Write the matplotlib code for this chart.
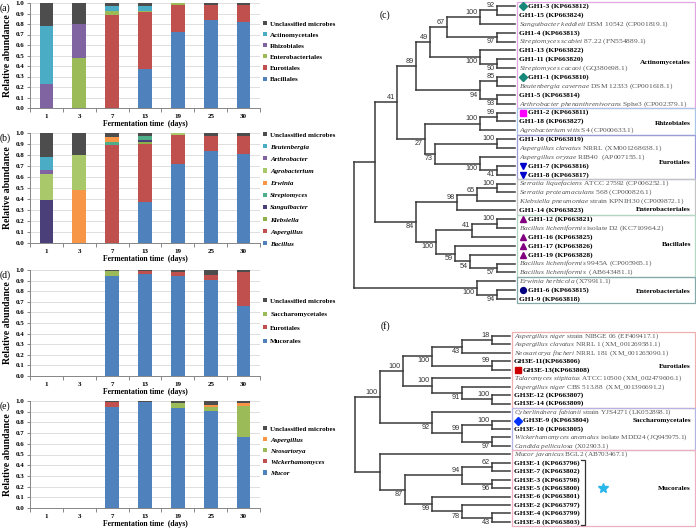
import matplotlib
matplotlib.use('Agg')
import matplotlib.pyplot as plt
from matplotlib.patches import Patch, Rectangle
from matplotlib.collections import LineCollection
import numpy as np

plt.rcParams['font.family'] = 'Liberation Serif'
plt.rcParams['mathtext.fontset'] = 'custom'
plt.rcParams['mathtext.it'] = 'Liberation Serif:italic'
plt.rcParams['mathtext.rm'] = 'Liberation Serif'

W, H = 696, 528

# ---------------- bar chart data ----------------
days = ['1', '3', '7', '13', '19', '25', '30']

# (a) bacterial orders, bottom -> top
a_names = ['Bacillales', 'Eurotiales', 'Enterobacteriales', 'Rhizobiales',
           'Actinomycetales', 'Unclassified microbes']
a_bacillales = [0, 0, 0, 0.37, 0.72, 0.84, 0.82]
a_eurotiales = [0, 0, 0.89, 0.54, 0.26, 0.14, 0.16]
a_enterobacteriales = [0, 0.48, 0.03, 0.01, 0.02, 0, 0]
a_rhizobiales = [0.23, 0.32, 0, 0, 0, 0, 0]
a_actinomycetales = [0.55, 0, 0.05, 0.05, 0, 0, 0]
a_unclassified = [0.22, 0.20, 0.03, 0.03, 0, 0.02, 0.02]

# (b) bacterial genera, bottom -> top
b_names = ['Bacillus', 'Aspergillus', 'Klebsiella', 'Sangulbacter', 'Streptomyces',
           'Erwinia', 'Agrobacterium', 'Arthrobacter', 'Beutenbergia',
           'Unclassified microbes']
b_bacillus = [0, 0, 0, 0.375, 0.72, 0.84, 0.81]
b_aspergillus = [0, 0, 0.89, 0.525, 0.26, 0.135, 0.165]
b_klebsiella = [0, 0, 0, 0.015, 0, 0, 0]
b_sangulbacter = [0.39, 0, 0, 0.02, 0, 0, 0]
b_streptomyces = [0, 0, 0.03, 0.035, 0, 0, 0]
b_erwinia = [0, 0.48, 0.045, 0, 0, 0, 0]
b_agrobacterium = [0.24, 0.32, 0, 0, 0.02, 0, 0]
b_arthrobacter = [0.03, 0, 0, 0, 0, 0, 0]
b_beutenbergia = [0.12, 0, 0, 0, 0, 0, 0]
b_unclassified = [0.22, 0.20, 0.035, 0.03, 0, 0.025, 0.025]

# (d) fungal orders, bottom -> top
d_names = ['Mucorales', 'Eurotiales', 'Saccharomycetales', 'Unclassified microbes']
d_mucorales = [0, 0, 0.945, 0.965, 0.94, 0.905, 0.665]
d_eurotiales = [0, 0, 0, 0.025, 0.045, 0.05, 0.315]
d_saccharomycetales = [0, 0, 0.045, 0, 0, 0, 0]
d_unclassified = [0, 0, 0.01, 0.01, 0.015, 0.045, 0.02]

# (e) fungal genera, bottom -> top
e_names = ['Mucor', 'Wickerhamomyces', 'Neosartorya', 'Aspergillus', 'Unclassified microbes']
e_mucor = [0, 0, 0.945, 0.99, 0.935, 0.905, 0.665]
e_wickerhamomyces = [0, 0, 0.045, 0, 0, 0, 0]
e_neosartorya = [0, 0, 0, 0, 0.05, 0.035, 0.29]
e_aspergillus = [0, 0, 0, 0, 0, 0.02, 0.025]
e_unclassified = [0, 0, 0.01, 0.01, 0.015, 0.04, 0.02]

BLUE, RED, GREEN, PURPLE = '#4f81bd', '#c0504d', '#9bbb59', '#8064a2'
AQUA, ORANGE, GRAY = '#4bacc6', '#f79646', '#4d4d4d'

# ---------------- tree data ----------------
# leaves: (italic part, rest). isolates have no italic part and are bold
c_leaves = [
    ("", "GH1-3 (KP663812)"), ("", "GH1-15 (KP663824)"),
    ("Sanguibacter keddieii", "DSM 10542 (CP001819.1)"),
    ("", "GH1-4 (KP663813)"), ("Streptomyces scabiei", "87.22 (FN554889.1)"),
    ("", "GH1-13 (KP663822)"), ("", "GH1-11 (KP663820)"),
    ("Streptomyces cacaoi", "(GQ380698.1)"), ("", "GH1-1 (KP663810)"),
    ("Beutenbergia cavernae", "DSM 12333 (CP001618.1)"), ("", "GH1-5 (KP663814)"),
    ("Arthrobacter phenanthrenivorans", "Sphe3 (CP002379.1)"),
    ("", "GH1-2 (KP663811)"), ("", "GH1-18 (KP663827)"),
    ("Agrobacterium vitis", "S4 (CP000633.1)"), ("", "GH1-10 (KP663819)"),
    ("Aspergillus clavatus", "NRRL (XM001268638.1)"),
    ("Aspergillus oryzae", "RIB40  (AP007155.1)"),
    ("", "GH1-7 (KP663816)"), ("", "GH1-8 (KP663817)"),
    ("Serratia liquefaciens", "ATCC 27592 (CP006252.1)"),
    ("Serratia proteamaculans", "568 (CP000826.1)"),
    ("Klebsiella pneumoniae", "strain KPNIH30 (CP009872.1)"),
    ("", "GH1-14 (KP663823)"), ("", "GH1-12 (KP663821)"),
    ("Bacillus licheniformis", "isolate D2 (KC710964.2)"),
    ("", "GH1-16 (KP663825)"), ("", "GH1-17 (KP663826)"), ("", "GH1-19 (KP663828)"),
    ("Bacillus licheniformis", "9945A (CP005965.1)"),
    ("Bacillus licheniformis", " (AB643481.1)"),
    ("Erwinia herbicola", "(X79911.1)"), ("", "GH1-6 (KP663815)"), ("", "GH1-9 (KP663818)"),
]
c_marks = {0: ('D', '#17877a'), 8: ('D', '#17877a'), 12: ('s', '#ff00ff'),
           18: ('v', '#0000cc'), 19: ('v', '#0000cc'), 24: ('^', '#800080'),
           26: ('^', '#800080'), 27: ('^', '#800080'), 28: ('^', '#800080'),
           32: ('o', '#000080')}
# node: (x position, bootstrap, label above 'a' / below 'b', children)
c_tree = (354, None, 'a', [
    (375, None, 'a', [
        (397, 41, 'a', [
            (416, 89, 'a', [
                (430, 49, 'a', [
                    (447, 67, 'a', [
                        (480, 100, 'a', [(497, 92, 'a', [0, 1]), 2]),
                        (497, 97, 'b', [3, 4])]),
                    (480, 100, 'b', [5, (497, 90, 'b', [6, 7])])]),
                (480, 94, 'b', [(497, 85, 'a', [8, 9]), (497, 93, 'b', [10, 11])])]),
            (425, 27, 'b', [
                (480, 100, 'a', [(497, 99, 'a', [12, 13]), 14]),
                (435, 73, 'b', [
                    (497, 100, 'a', [15, 16]),
                    (480, 100, 'b', [17, (497, 41, 'b', [18, 19])])])])]),
        (416, 84, 'b', [
            (457, 98, 'a', [(477, 65, 'a', [(497, 100, 'a', [20, 21]), 22]), 23]),
            (436, 100, 'b', [
                (472, 41, 'a', [(497, 100, 'a', [24, 25]), 26]),
                (455, 59, 'b', [27, (470, 54, 'b', [28, (497, 57, 'b', [29, 30])])])])])]),
    (477, 100, 'b', [31, (497, 94, 'b', [32, 33])])])
c_groups = [("Actinomycetales", 0, 11, 6.4, '#e2a6e2'),
            ("Rhizobiales", 12, 14, 13.2, '#a9c4e6'),
            ("Eurotiales", 15, 19, 17.6, '#9c9cd8'),
            ("Enterobacteriales", 20, 23, 22.9, '#c4c4c4'),
            ("Bacillales", 24, 30, 26.9, '#b2d8c4'),
            ("Enterobacteriales", 31, 33, 32.2, '#86a8a8')]

f_leaves = [
    ("Aspergillus niger", "strain NIBGE 06 (EF409417.1)"),
    ("Aspergillus clavatus", "NRRL 1 (XM_001269581.1)"),
    ("Neosartorya fischeri", "NRRL 181 (XM_001265090.1)"),
    ("", "GH3E-11(KP663806)"), ("", "GH3E-13(KP663808)"),
    ("Talaromyces stipitatus", "ATCC 10500 (XM_002479606.1)"),
    ("Aspergillus niger", "CBS 513.88  (XM_001396691.2)"),
    ("", "GH3E-12 (KP663807)"), ("", "GH3E-14 (KP663809)"),
    ("Cyberlindnera fabianii", "strain YJS4271 (LK052898.1)"),
    ("", "GH3E-9 (KP663804)"), ("", "GH3E-10 (KP663805)"),
    ("Wickerhamomyces anomalus", "isolate MDD24 (JQ945975.1)"),
    ("Candida pelliculosa", "(X02903.1)"),
    ("Mucor javanicus", "BGL2 (AB703467.1)"),
    ("", "GH3E-1 (KP663796)"), ("", "GH3E-7 (KP663802)"), ("", "GH3E-3 (KP663798)"),
    ("", "GH3E-5 (KP663800)"), ("", "GH3E-6 (KP663801)"), ("", "GH3E-2 (KP663797)"),
    ("", "GH3E-4 (KP663799)"), ("", "GH3E-8 (KP663803)"),
]
f_marks = {4: ('s', '#cc0000'), 10: ('D', '#0033ff')}
f_tree = (355, None, 'a', [
    (380, 100, 'a', [
        (403, 100, 'a', [
            (432, 100, 'b', [(462, 43, 'b', [(492, 18, 'a', [0, 1]), 2]),
                             (492, 99, 'a', [3, 4])]),
            (432, 100, 'a', [5, (462, 91, 'b', [6, (492, 100, 'a', [7, 8])])])]),
        (432, 92, 'b', [9, (462, 99, 'a', [(492, 100, 'a', [10, 11]),
                                           (492, 97, 'b', [12, 13])])])]),
    (380, None, 'a', [
        14,
        (405, 87, 'b', [
            (462, 94, 'a', [(492, 62, 'a', [15, 16]), (492, 96, 'b', [17, 18])]),
            (432, 99, 'b', [19, (462, 78, 'b', [20, (492, 43, 'b', [21, 22])])])])])])
f_groups = [("Eurotiales", 0, 8, 3.6, '#eeb0b0'),
            ("Saccharomycetales", 9, 13, 10.0, '#b4b4e4'),
            ("Mucorales", 14, 22, 18.0, '#eeb0c0')]

fig = plt.figure(figsize=(W / 100, H / 100), dpi=100)


def rect(l, t, r, b):
    return [l / W, 1 - b / H, (r - l) / W, (b - t) / H]


def bar_panel(box, tag, names, series, colors, leg_top, leg_space, italic=False):
    ax = fig.add_axes(rect(*box))
    x = np.arange(len(days))
    bottom = np.zeros(len(days))
    for vals, c in zip(series, colors):
        ax.bar(x, vals, 0.42, bottom=bottom, color=c, zorder=2, linewidth=0)
        bottom += np.array(vals)
    ax.set_xlim(-0.5, len(days) - 0.5)
    ax.set_ylim(0, 1)
    yt = np.round(np.arange(0, 1.01, 0.1), 1)
    ax.set_yticks(yt)
    ax.set_yticklabels(['%.1f' % v for v in yt], fontsize=5, fontweight='bold')
    ax.set_xticks(x)
    ax.set_xticklabels(days, fontsize=5, fontweight='bold')
    ax.set_xticks(np.arange(-0.5, len(days), 1), minor=True)
    ax.tick_params(axis='x', which='major', length=0, pad=4)
    ax.tick_params(axis='x', which='minor', length=3, color='#868686', width=0.7)
    ax.tick_params(axis='y', length=2, color='#868686', width=0.7, pad=2)
    ax.grid(axis='y', color='#d9d9d9', lw=0.6)
    ax.set_axisbelow(True)
    for s in ['top', 'right']:
        ax.spines[s].set_visible(False)
    for s in ['left', 'bottom']:
        ax.spines[s].set_color('#868686')
        ax.spines[s].set_linewidth(0.7)
    ax.set_xlabel('Fermentation time  (days)', fontsize=5.5, fontweight='bold', labelpad=1)
    ax.set_ylabel('Relative abundance', fontsize=7, fontweight='bold', labelpad=3)
    fig.text(0 / W, 1 - (box[1] + 5) / H, tag, fontsize=7, va='center', ha='left')
    handles = [Patch(facecolor=c, edgecolor='none') for c in colors][::-1]
    leg = fig.legend(handles, names[::-1], loc='upper left',
                     bbox_to_anchor=(263 / W, 1 - leg_top / H), bbox_transform=fig.transFigure,
                     frameon=False, handlelength=0.55, handleheight=0.55,
                     handletextpad=0.5, borderpad=0, borderaxespad=0, labelspacing=leg_space,
                     prop={'weight': 'bold', 'size': 5})
    if italic:
        for t in leg.get_texts():
            if t.get_text() != 'Unclassified microbes':
                t.set_style('italic')
    return ax


bar_panel((30, 3, 260, 108), '(a)', a_names,
          [a_bacillales, a_eurotiales, a_enterobacteriales, a_rhizobiales,
           a_actinomycetales, a_unclassified],
          [BLUE, RED, GREEN, PURPLE, AQUA, GRAY], 21, 0.8)
bar_panel((30, 133, 260, 243), '(b)', b_names,
          [b_bacillus, b_aspergillus, b_klebsiella, b_sangulbacter, b_streptomyces,
           b_erwinia, b_agrobacterium, b_arthrobacter, b_beutenbergia, b_unclassified],
          [BLUE, RED, '#8cb04a', '#4b3f7a', '#4fae8a', ORANGE, '#a9c86a', PURPLE, AQUA, GRAY],
          132, 0.95, italic=True)
bar_panel((30, 270, 260, 376), '(d)', d_names,
          [d_mucorales, d_eurotiales, d_saccharomycetales, d_unclassified],
          [BLUE, RED, GREEN, GRAY], 298, 1.15)
bar_panel((30, 401, 260, 508), '(e)', e_names,
          [e_mucor, e_wickerhamomyces, e_neosartorya, e_aspergillus, e_unclassified],
          [BLUE, RED, GREEN, ORANGE, GRAY], 426, 0.8, italic=True)

# ---------------- trees ----------------
axt = fig.add_axes([0, 0, 1, 1])
axt.set_xlim(0, W)
axt.set_ylim(H, 0)
axt.axis('off')


def layout(node, ys, tip_x, segs, sups):
    if isinstance(node, int):
        return ys[node]
    x, sup, pos, kids = node
    cy = []
    for k in kids:
        y = layout(k, ys, tip_x, segs, sups)
        kx = tip_x if isinstance(k, int) else k[0]
        segs.append([(x, y), (kx, y)])
        cy.append(y)
    segs.append([(x, min(cy)), (x, max(cy))])
    ym = (cy[0] + cy[-1]) / 2
    if sup is not None:
        sups.append((x, ym, sup, pos))
    return ym


def draw_tree(tree, leaves, marks, groups, y0, dy, tip_x, box_l, tag, tag_y, fs):
    ys = [y0 + dy * i for i in range(len(leaves))]
    segs, sups = [], []
    layout(tree, ys, tip_x, segs, sups)
    axt.add_collection(LineCollection(segs, colors='#3a3a3a', linewidths=1.1,
                                      capstyle='projecting'))
    for x, y, s, pos in sups:
        if pos == 'a':
            axt.text(x - 2, y - 1.2, str(s), ha='right', va='bottom', fontsize=5.2,
                     family='Liberation Sans', color='#333333')
        else:
            axt.text(x - 2, y + 1.2, str(s), ha='right', va='top', fontsize=5.2,
                     family='Liberation Sans', color='#333333')
    for i, (it, rest) in enumerate(leaves):
        tx = tip_x + 4
        if i in marks:
            m, c = marks[i]
            axt.plot(tip_x + 8, ys[i], marker=m, color=c, ms=4.2, mec=c)
            tx = tip_x + 13
        if it:
            s = r'$\mathit{' + it.replace(' ', r'\ ') + '}$ ' + rest
            axt.text(tx, ys[i], s, fontsize=fs, color='#555555', va='center')
        else:
            axt.text(tx, ys[i], rest, fontsize=5.3, fontweight='bold', color='black',
                     va='center')
    for name, i0, i1, ly, c in groups:
        top = ys[i0] - dy / 2
        bot = ys[i1] + dy / 2
        axt.add_patch(Rectangle((box_l, top), 695 - box_l, bot - top, fill=False,
                                edgecolor=c, lw=0.9))
        axt.text(691, y0 + dy * ly, name, ha='right', va='center', fontsize=5.2,
                 fontweight='bold')
    axt.text(385, tag_y, tag, fontsize=7, ha='center', va='center')
    return ys


draw_tree(c_tree, c_leaves, c_marks, c_groups, 6, 8.88, 515, 517, '(c)', 15, 5.4)
ys_f = draw_tree(f_tree, f_leaves, f_marks, f_groups, 336, 8.45, 510, 512, '(f)', 326, 5.2)

# Mucorales bracket and star
axt.plot([581, 585, 585, 581], [ys_f[15] - 3, ys_f[15] - 3, ys_f[22] + 3, ys_f[22] + 3],
         color='#333333', lw=0.9)
axt.plot(603, ys_f[18], marker='*', color='#29b6e8', ms=7)

fig.savefig('out.png', dpi=100)
